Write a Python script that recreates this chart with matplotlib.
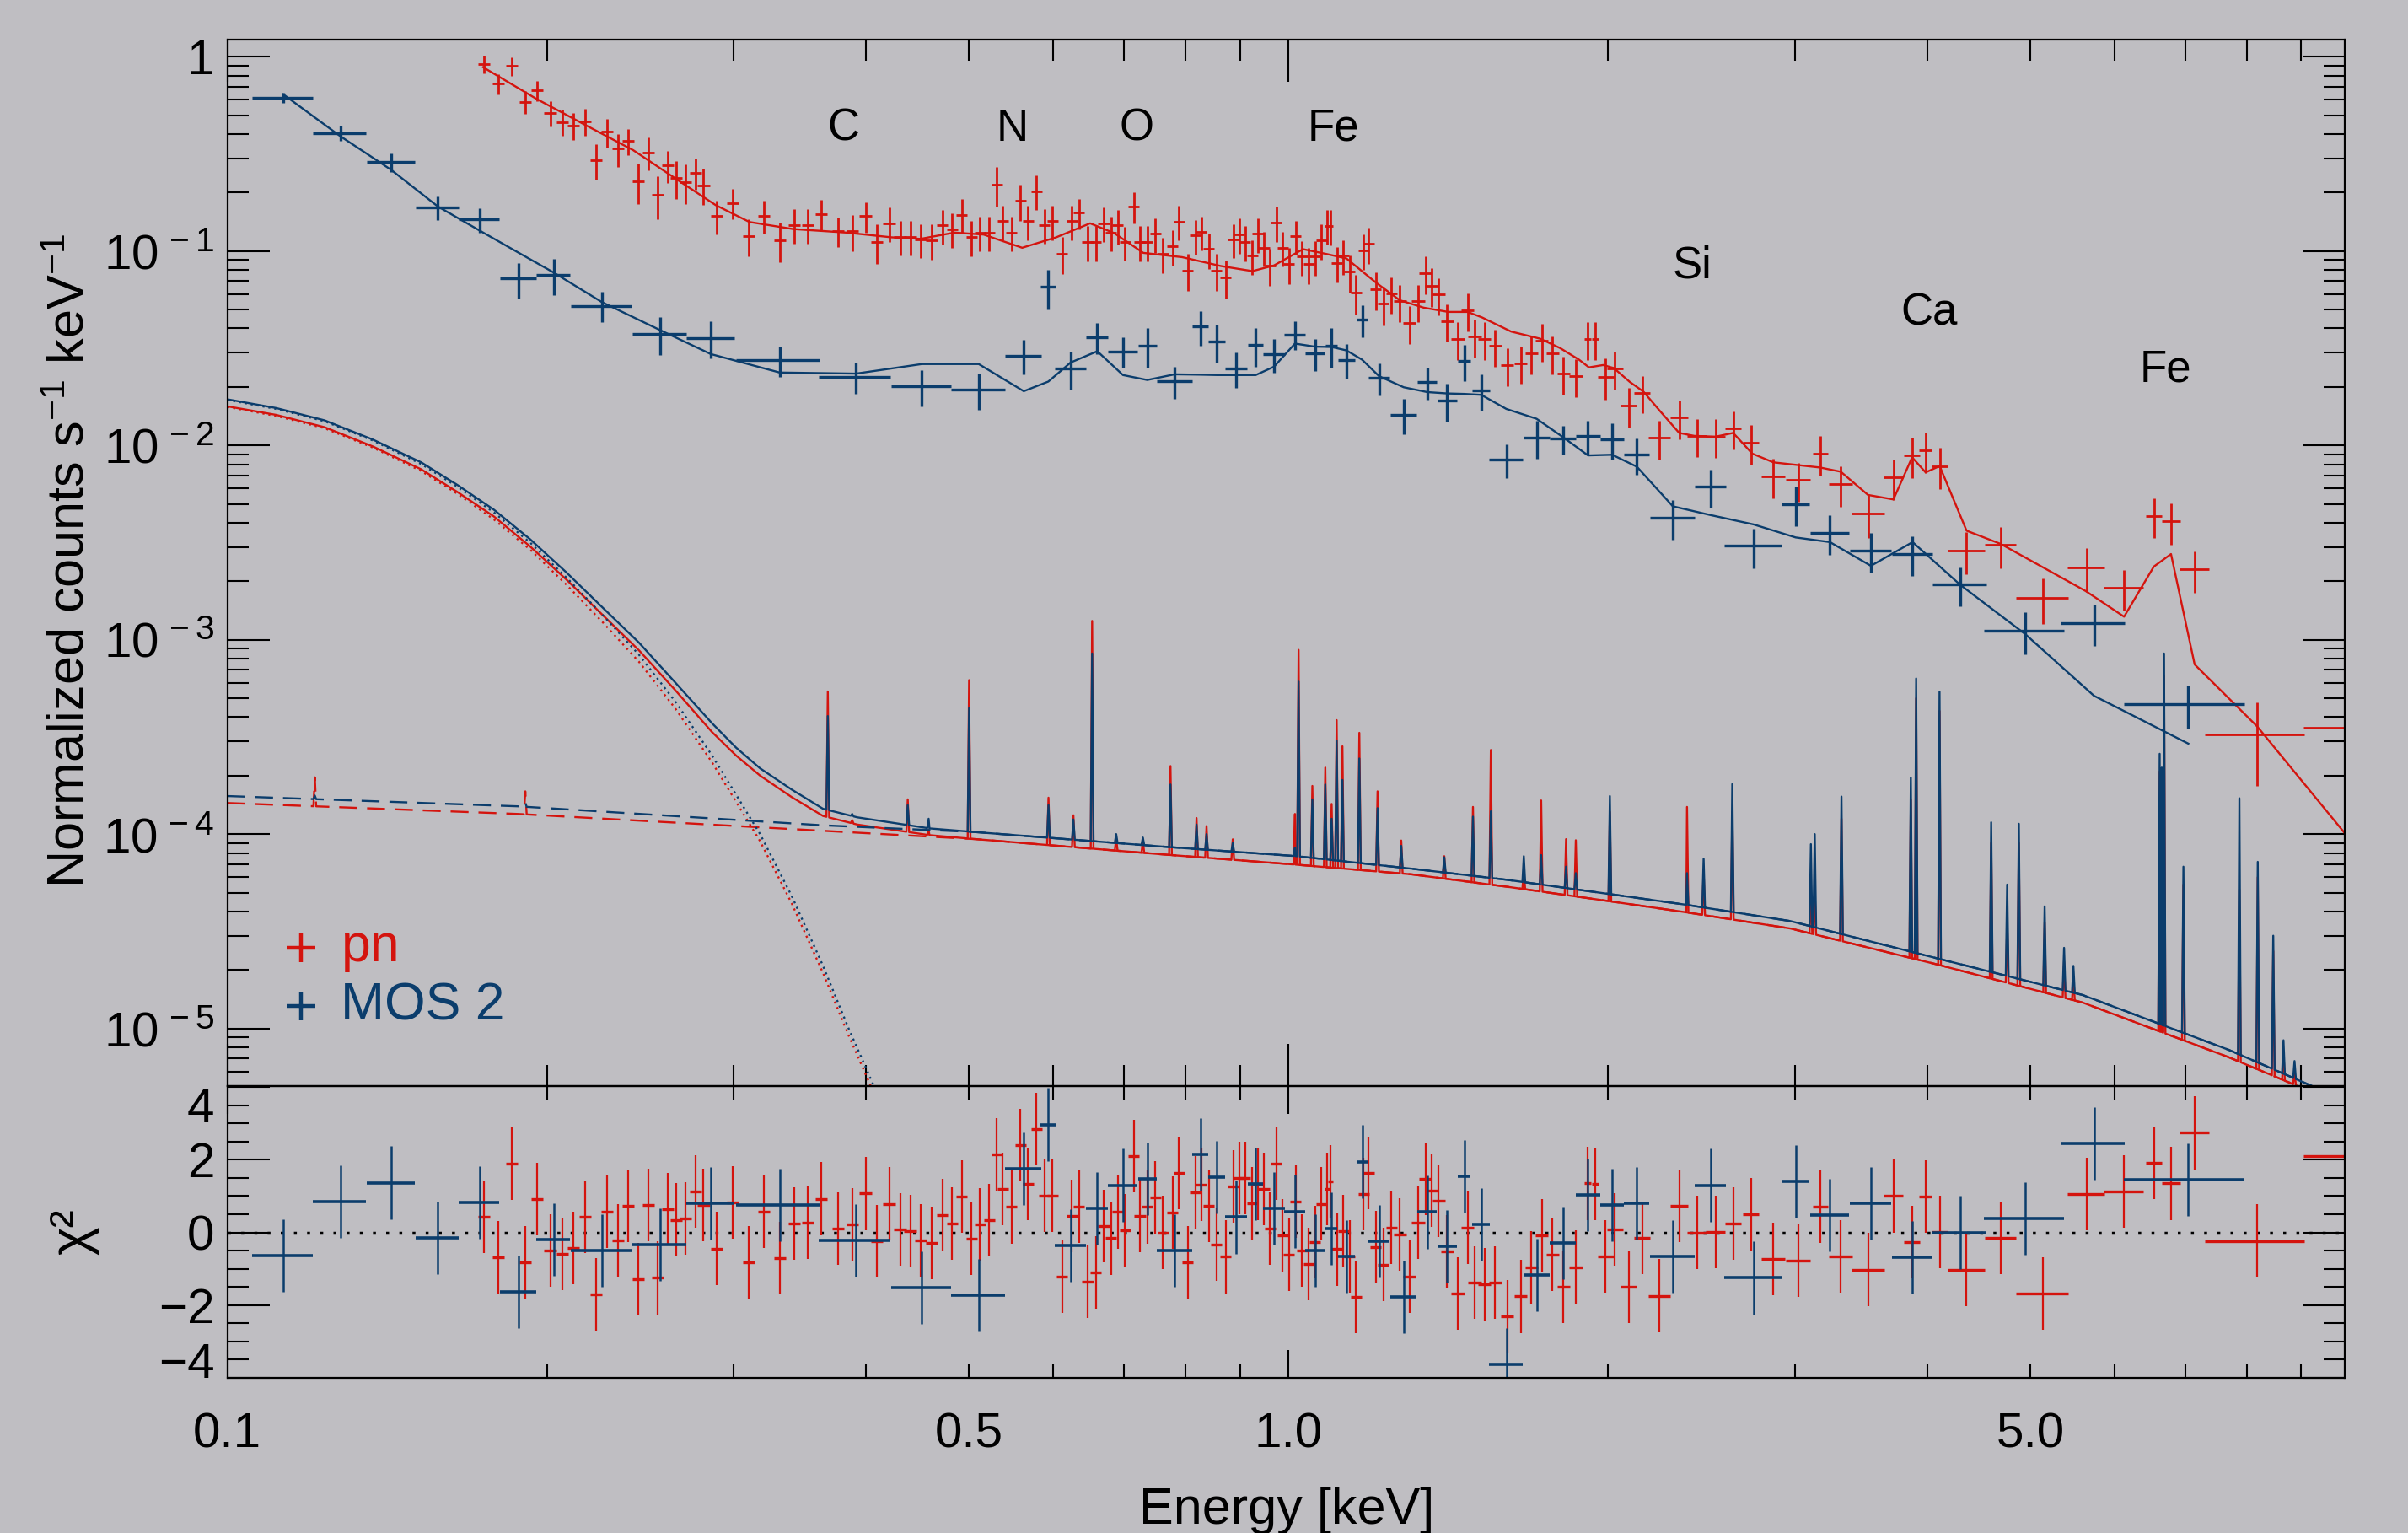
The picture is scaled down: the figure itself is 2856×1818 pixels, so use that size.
import numpy as np
import matplotlib
matplotlib.use('Agg')
import matplotlib.pyplot as plt
from matplotlib.ticker import FixedLocator, FuncFormatter, MultipleLocator, NullFormatter

plt.rcParams['font.family'] = ['Liberation Sans', 'DejaVu Sans']
plt.rcParams['mathtext.fontset'] = 'custom'
plt.rcParams['mathtext.rm'] = 'Liberation Sans'
plt.rcParams['mathtext.it'] = 'Liberation Sans:italic'
plt.rcParams['mathtext.bf'] = 'Liberation Sans:bold'
plt.rcParams['mathtext.default'] = 'regular'

RED = '#d4140e'
BLUE = '#0b3d6c'
BG = '#bfbec2'

# ---------------- pn data (keV, counts/s/keV) ----------------
pn_E = [0.1746, 0.1800, 0.1854, 0.1909, 0.1960, 0.2015, 0.2068, 0.2118, 0.2173, 0.2227,
        0.2280, 0.2333, 0.2388, 0.2438, 0.2492, 0.2546, 0.2600, 0.2650, 0.2703, 0.2761,
        0.2810, 0.2891, 0.2993, 0.3099, 0.3204, 0.3315, 0.3420, 0.3522, 0.3627, 0.3764,
        0.3880, 0.3994, 0.4095, 0.4204, 0.4305, 0.4400, 0.4504, 0.4611, 0.4718, 0.4820,
        0.4920, 0.5025, 0.5121, 0.5225, 0.5312, 0.5380, 0.5483, 0.5588, 0.5683, 0.5786,
        0.5888, 0.5990, 0.6117, 0.6248, 0.6346, 0.6467, 0.6584, 0.6696, 0.6802, 0.6902,
        0.7014, 0.7145, 0.7244, 0.7358, 0.7491, 0.7617, 0.7773, 0.7885, 0.8037, 0.8173,
        0.8276, 0.8410, 0.8551, 0.8724, 0.8870, 0.8983, 0.9097, 0.9245, 0.9359, 0.9478,
        0.9608, 0.9741, 0.9874, 1.001, 1.016, 1.030, 1.045, 1.059, 1.074, 1.088,
        1.096, 1.111, 1.126, 1.142, 1.158, 1.177, 1.190, 1.208, 1.229, 1.250,
        1.273, 1.300, 1.325, 1.346, 1.363, 1.385, 1.411, 1.444, 1.475, 1.498,
        1.530, 1.566, 1.607, 1.655, 1.694, 1.732, 1.773, 1.816, 1.865, 1.914,
        1.945, 1.990, 2.030, 2.092, 2.154, 2.236, 2.334, 2.426, 2.527, 2.624,
        2.727, 2.863, 3.021, 3.170, 3.314, 3.516, 3.715, 3.869, 3.984, 4.107,
        4.354, 4.690, 5.137, 5.647, 6.128, 6.537, 6.785, 7.142, 8.18, 10.5]
pn_v = [0.918, 0.729, 0.897, 0.586, 0.671, 0.513, 0.461, 0.442, 0.464, 0.294,
        0.410, 0.336, 0.368, 0.228, 0.322, 0.194, 0.275, 0.237, 0.226, 0.253,
        0.218, 0.152, 0.177, 0.1195, 0.152, 0.1136, 0.1365, 0.1365, 0.1548, 0.1265,
        0.1265, 0.151, 0.1117, 0.1388, 0.1185, 0.1185, 0.1147, 0.1136, 0.1355, 0.1297,
        0.1534, 0.1183, 0.1247, 0.1247, 0.220, 0.1426, 0.1247, 0.181, 0.1426, 0.203,
        0.1365, 0.1426, 0.0971, 0.1426, 0.1576, 0.1117, 0.1117, 0.1388, 0.1245, 0.1355,
        0.1117, 0.1695, 0.1117, 0.1117, 0.1226, 0.0971, 0.1062, 0.1421, 0.0795, 0.1202,
        0.1256, 0.1022, 0.0795, 0.0732, 0.1148, 0.1215, 0.1117, 0.0947, 0.1226, 0.1039,
        0.0843, 0.1403, 0.1039, 0.0857, 0.1195, 0.0937, 0.0857, 0.0937, 0.1136, 0.1350,
        0.1350, 0.0871, 0.0947, 0.0782, 0.0610, 0.1011, 0.1089, 0.0634, 0.0534, 0.0604,
        0.0551, 0.0425, 0.0551, 0.0769, 0.0663, 0.0597, 0.0437, 0.0352, 0.0494, 0.0363,
        0.0352, 0.0324, 0.0258, 0.0265, 0.0298, 0.0346, 0.0298, 0.0234, 0.0227, 0.0354,
        0.0354, 0.0226, 0.0248, 0.0160, 0.0187, 0.01095, 0.01388, 0.01119, 0.01109, 0.01224,
        0.01037, 0.00695, 0.00664, 0.00907, 0.00634, 0.00444, 0.00685, 0.00887, 0.00940, 0.00783,
        0.00287, 0.00307, 0.00164, 0.00236, 0.00185, 0.00435, 0.00406, 0.00230, 0.000327, 0.000354]
pn_xerr = [0.0023, 0.0023, 0.0024, 0.0025, 0.0025, 0.0026, 0.0027, 0.0028, 0.0028, 0.0029,
           0.0030, 0.0030, 0.0031, 0.0032, 0.0032, 0.0033, 0.0034, 0.0034, 0.0035, 0.0036,
           0.0037, 0.0038, 0.0039, 0.0040, 0.0042, 0.0043, 0.0044, 0.0046, 0.0047, 0.0049,
           0.0050, 0.0052, 0.0053, 0.0055, 0.0056, 0.0057, 0.0059, 0.0060, 0.0057, 0.0058,
           0.0059, 0.0060, 0.0061, 0.0063, 0.0064, 0.0065, 0.0066, 0.0067, 0.0068, 0.0069,
           0.0071, 0.0072, 0.0073, 0.0075, 0.0076, 0.0078, 0.0079, 0.0080, 0.0082, 0.0083,
           0.0084, 0.0086, 0.0087, 0.0088, 0.0090, 0.0091, 0.0093, 0.0095, 0.0096, 0.0098,
           0.0099, 0.0101, 0.0103, 0.0105, 0.0106, 0.0108, 0.0109, 0.0111, 0.0112, 0.0114,
           0.0115, 0.0117, 0.0118, 0.0120, 0.0122, 0.0124, 0.0125, 0.0127, 0.0129, 0.0060,
           0.0060, 0.0133, 0.0135, 0.0137, 0.0139, 0.0141, 0.0143, 0.0145, 0.0147, 0.0150,
           0.0178, 0.0182, 0.0186, 0.0188, 0.0191, 0.0194, 0.0198, 0.0202, 0.0207, 0.0210,
           0.0214, 0.0219, 0.0225, 0.0232, 0.0237, 0.0242, 0.0248, 0.0254, 0.0261, 0.0150,
           0.0150, 0.0338, 0.0345, 0.0356, 0.0366, 0.0514, 0.0443, 0.0510, 0.0531, 0.0446,
           0.0491, 0.0716, 0.0816, 0.0539, 0.0829, 0.1266, 0.0780, 0.0658, 0.0558, 0.0739,
           0.1785, 0.1595, 0.2928, 0.2259, 0.2635, 0.1177, 0.1357, 0.2285, 0.883, 1.45]
pn_yerr = [0.094, 0.087, 0.099, 0.076, 0.081, 0.077, 0.071, 0.071, 0.074, 0.062,
           0.070, 0.064, 0.057, 0.054, 0.061, 0.049, 0.052, 0.052, 0.052, 0.046,
           0.046, 0.030, 0.031, 0.026, 0.029, 0.026, 0.027, 0.027, 0.028, 0.022,
           0.027, 0.027, 0.026, 0.028, 0.024, 0.024, 0.023, 0.023, 0.027, 0.026,
           0.031, 0.024, 0.025, 0.025, 0.051, 0.029, 0.025, 0.038, 0.029, 0.041,
           0.027, 0.029, 0.021, 0.029, 0.028, 0.023, 0.023, 0.028, 0.025, 0.027,
           0.022, 0.031, 0.023, 0.023, 0.025, 0.020, 0.022, 0.029, 0.017, 0.024,
           0.025, 0.021, 0.017, 0.016, 0.023, 0.025, 0.023, 0.019, 0.025, 0.021,
           0.018, 0.029, 0.021, 0.018, 0.024, 0.019, 0.018, 0.019, 0.023, 0.027,
           0.028, 0.018, 0.019, 0.017, 0.014, 0.021, 0.023, 0.014, 0.012, 0.013,
           0.012, 0.0094, 0.012, 0.017, 0.015, 0.013, 0.0096, 0.0077, 0.011, 0.0080,
           0.0077, 0.0071, 0.0057, 0.0058, 0.0066, 0.0076, 0.0066, 0.0051, 0.0050, 0.0078,
           0.0078, 0.0054, 0.0055, 0.0037, 0.0041, 0.0025, 0.0031, 0.0025, 0.0025, 0.0027,
           0.0024, 0.0016, 0.0015, 0.0021, 0.0015, 0.0011, 0.0016, 0.0021, 0.0022, 0.0019,
           0.0007, 0.00075, 0.00043, 0.00059, 0.00044, 0.0010, 0.00097, 0.00055, 0.00015, 0.00021]
pn_res = [0.44, -0.68, 1.89, -0.83, 0.91, -0.49, -0.59, -0.42, 0.44, -1.70,
          0.58, -0.22, 0.73, -1.29, 0.76, -1.25, 0.64, 0.35, 0.39, 1.13,
          0.76, -0.44, 0.83, -0.83, 0.58, -0.70, 0.25, 0.27, 0.93, 0.10,
          0.23, 1.07, -0.25, 0.79, 0.08, 0.04, -0.21, -0.29, 0.48, 0.25,
          0.99, -0.17, 0.22, 0.33, 2.15, 1.19, 0.70, 2.40, 1.33, 2.85,
          1.01, 1.01, -1.21, 0.46, 0.72, -1.36, -1.10, 0.17, -0.16, 0.56,
          0.05, 2.11, 0.46, 0.70, 0.97, 0.00, 0.55, 1.64, -0.83, 1.10,
          1.32, 0.73, -0.33, -0.67, 1.27, 1.49, 1.49, 0.81, 1.33, 1.19,
          0.10, 1.89, -0.09, -0.62, 0.86, -0.49, -0.86, -0.26, 0.79, 1.20,
          1.41, -0.46, 0.04, -0.66, -1.78, 1.06, 1.64, -0.41, -0.88, 0.14,
          -0.06, -1.21, 0.28, 1.48, 1.16, 0.87, -0.52, -1.68, 0.13, -1.38,
          -1.43, -1.37, -2.30, -1.76, -0.97, -0.08, -0.62, -1.50, -0.95, 1.35,
          1.33, -0.66, 0.08, -1.50, -0.15, -1.74, 0.73, 0.00, 0.02, 0.24,
          0.49, -0.72, -0.78, 0.72, -0.66, -1.02, 1.00, -0.26, 0.98, 0.01,
          -1.02, -0.15, -1.68, 1.05, 1.12, 1.91, 1.35, 2.74, -0.23, 2.10]

# pn folded model
pnm_E = [0.1742, 0.1955, 0.2173, 0.2413, 0.2680, 0.2885, 0.3105, 0.3414, 0.3831, 0.4227,
         0.4501, 0.4844, 0.5160, 0.5611, 0.6040, 0.6502, 0.6852, 0.7297, 0.7936, 0.8634,
         0.9245, 0.9690, 1.032, 1.088, 1.134, 1.208, 1.273, 1.341, 1.414, 1.475,
         1.522, 1.621, 1.726, 1.802, 1.878, 1.919, 1.979, 2.025, 2.097, 2.160,
         2.236, 2.334, 2.412, 2.527, 2.624, 2.735, 2.863, 3.170, 3.314, 3.516,
         3.715, 3.869, 3.984, 4.107, 4.354, 4.690, 5.639, 6.128, 6.537, 6.785,
         7.142, 8.18, 10.5]
pnm_v = [0.882, 0.607, 0.446, 0.330, 0.2248, 0.1723, 0.141, 0.1297, 0.1244, 0.1176,
         0.1155, 0.1244, 0.1215, 0.1039, 0.1176, 0.1388, 0.1235, 0.0978, 0.0930, 0.0837,
         0.0788, 0.0843, 0.1022, 0.0963, 0.0915, 0.0690, 0.0558, 0.0511, 0.0486, 0.0486,
         0.0455, 0.0385, 0.0354, 0.0317, 0.0276, 0.0252, 0.0259, 0.0250, 0.0212, 0.0189,
         0.01514, 0.01159, 0.01119, 0.01109, 0.01159, 0.00907, 0.00818, 0.00769, 0.00732, 0.00556,
         0.00527, 0.00868, 0.00726, 0.00783, 0.00364, 0.00311, 0.00178, 0.001314, 0.00238, 0.00276,
         0.000746, 0.000358, 0.000068]

# ---------------- MOS 2 data ----------------
mos_E = [0.1129, 0.1278, 0.1427, 0.1579, 0.1728, 0.1880, 0.2030, 0.2254, 0.2557, 0.2855,
         0.3315, 0.3913, 0.4512, 0.5106, 0.5630, 0.5938, 0.6233, 0.6604, 0.6982, 0.7360,
         0.7812, 0.8258, 0.8563, 0.8927, 0.9312, 0.9690, 1.014, 1.059, 1.097, 1.134,
         1.173, 1.217, 1.284, 1.351, 1.411, 1.464, 1.519, 1.604, 1.713, 1.815,
         1.915, 2.018, 2.129, 2.302, 2.498, 2.743, 3.005, 3.237, 3.538, 3.873,
         4.293, 4.948, 5.740, 7.045]
mos_v = [0.615, 0.4054, 0.287, 0.1677, 0.145, 0.0721, 0.0754, 0.0523, 0.0375, 0.0358,
         0.0274, 0.0226, 0.0201, 0.0193, 0.0290, 0.0652, 0.0249, 0.0360, 0.0305, 0.0326,
         0.0213, 0.0408, 0.0342, 0.0249, 0.0328, 0.0295, 0.0372, 0.0297, 0.0326, 0.0276,
         0.0443, 0.0222, 0.0144, 0.0211, 0.0170, 0.0271, 0.0191, 0.00846, 0.01093, 0.0108,
         0.01115, 0.01075, 0.00895, 0.00425, 0.00613, 0.00304, 0.00497, 0.00356, 0.00288, 0.00276,
         0.00192, 0.00111, 0.00122, 0.000467]
mos_xerr = [0.0074, 0.0074, 0.0074, 0.0073, 0.0077, 0.0073, 0.0075, 0.0148, 0.0150, 0.0150,
            0.0298, 0.0303, 0.0292, 0.0295, 0.0222, 0.0100, 0.0215, 0.0156, 0.0228, 0.0147,
            0.0295, 0.0143, 0.0157, 0.0208, 0.0152, 0.0226, 0.0229, 0.0222, 0.0143, 0.0215,
            0.0141, 0.0287, 0.0368, 0.0290, 0.0296, 0.0208, 0.0294, 0.0590, 0.0477, 0.0515,
            0.0505, 0.0505, 0.0596, 0.113, 0.083, 0.169, 0.093, 0.136, 0.158, 0.172,
            0.25, 0.428, 0.398, 0.915]
mos_yerr = [0.039, 0.036, 0.032, 0.023, 0.021, 0.015, 0.016, 0.0094, 0.0083, 0.0079,
            0.0049, 0.0041, 0.0042, 0.0041, 0.0058, 0.015, 0.0055, 0.0065, 0.0055, 0.0075,
            0.0040, 0.0082, 0.0075, 0.0052, 0.0075, 0.0059, 0.0063, 0.0056, 0.0075, 0.0055,
            0.0084, 0.0042, 0.0030, 0.0040, 0.0037, 0.0057, 0.0040, 0.0017, 0.0024, 0.0018,
            0.0022, 0.0023, 0.0019, 0.00098, 0.00135, 0.0007, 0.00114, 0.00082, 0.00066, 0.00063,
            0.00044, 0.00027, 0.00029, 0.000117]
mos_res = [-0.63, 0.85, 1.37, -0.14, 0.83, -1.64, -0.19, -0.50, -0.33, 0.81,
           0.76, -0.21, -1.51, -1.72, 1.75, 2.97, -0.36, 0.67, 1.30, 1.47,
           -0.50, 2.14, 1.52, 0.42, 1.33, 0.66, 0.58, -0.49, 0.11, -0.66,
           1.95, -0.25, -1.78, 0.56, -0.38, 1.54, 0.22, -3.63, -1.17, -0.29,
           1.03, 0.76, 0.80, -0.66, 1.30, -1.25, 1.41, 0.48, 0.80, -0.68,
           0.00, 0.39, 2.45, 1.46]
mos_model = [0.640, 0.3895, 0.2615, 0.1695, 0.1276, 0.0982, 0.0775, 0.0546, 0.0392, 0.0295,
             0.0237, 0.0234, 0.0262, 0.0262, 0.0190, 0.0213, 0.0267, 0.0305, 0.0230, 0.0217,
             0.0232, 0.0231, 0.0230, 0.0230, 0.0230, 0.0254, 0.0334, 0.0322, 0.0321, 0.0308,
             0.0276, 0.0227, 0.0199, 0.0188, 0.0185, 0.0184, 0.0182, 0.0154, 0.0137, 0.0110,
             0.00888, 0.00895, 0.00777, 0.00486, 0.00438, 0.00392, 0.00336, 0.00318, 0.00240, 0.00318,
             0.00192, 0.001066, 0.000515, 0.000292]

# ---------------- unfolded model components ----------------
# soft (dotted) component
soft_E = [0.1, 0.1112, 0.1235, 0.1371, 0.1523, 0.1648, 0.1783, 0.1929, 0.2087, 0.2258,
          0.2443, 0.2644, 0.2861, 0.3015, 0.3177, 0.3403, 0.3642, 0.3850, 0.4067, 0.42]
soft_mos = [0.01714, 0.0154, 0.01331, 0.0106, 0.00802, 0.00612, 0.00452, 0.00316, 0.00209, 0.00134,
            0.000837, 0.000480, 0.000255, 0.000160, 0.000100, 4.8e-5, 2.1e-5, 1.0e-5, 5.06e-6, 3.2e-6]
soft_pn = [0.01577, 0.01417, 0.01225, 0.00975, 0.00738, 0.00563, 0.00416, 0.00291, 0.00192, 0.00123,
           0.00077, 0.000442, 0.000235, 0.000147, 9.2e-5, 4.4e-5, 1.93e-5, 9.2e-6, 4.65e-6, 2.9e-6]
# line-emitting plasma continuum (dashed)
cont_E = [0.1, 0.1879, 0.3642, 0.5074, 0.7644, 1.015, 1.306, 1.611, 1.988, 2.370,
          2.970, 4.079, 5.600, 7.691, 9.255, 9.9]
cont_mos = [1.57e-4, 1.39e-4, 1.11e-4, 1.024e-4, 8.61e-5, 7.71e-5, 6.64e-5, 5.81e-5, 4.95e-5, 4.33e-5,
            3.57e-5, 2.30e-5, 1.487e-5, 7.76e-6, 5.0e-6, 4.3e-6]
cont_pn = [1.446e-4, 1.27e-4, 1.04e-4, 9.42e-5, 7.85e-5, 6.97e-5, 6.21e-5, 5.35e-5, 4.55e-5, 3.96e-5,
           3.27e-5, 2.14e-5, 1.36e-5, 7.11e-6, 4.66e-6, 4.0e-6]
# total model below 0.46 keV (solid)
tot_E = [0.1, 0.1112, 0.1235, 0.1371, 0.1523, 0.1648, 0.1783, 0.1929, 0.2087, 0.2258,
         0.2443, 0.2644, 0.2861, 0.3015, 0.3177, 0.3403, 0.3642, 0.3923, 0.4588]
tot_mos = [0.01726, 0.01556, 0.01345, 0.01072, 0.00818, 0.00625, 0.00467, 0.00329, 0.00222, 0.001463,
           0.000966, 0.000601, 0.000373, 0.000279, 0.000218, 0.0001695, 0.000135, 0.000122, 0.000107]
tot_pn = [0.01588, 0.01435, 0.0124, 0.00988, 0.00753, 0.00575, 0.00431, 0.00302, 0.00204, 0.00134,
          0.000882, 0.000549, 0.000336, 0.000254, 0.0002, 0.000155, 0.000124, 0.000112, 0.0000988]
# emission lines: energy, peak (pn), peak (MOS 2)
line_E = [0.1209, 0.1909, 0.368, 0.388, 0.4377, 0.458, 0.500, 0.594, 0.627, 0.653,
          0.688, 0.729, 0.774, 0.819, 0.837, 0.886, 1.014, 1.022, 1.053, 1.083,
          1.098, 1.110, 1.124, 1.166, 1.213, 1.277, 1.402, 1.492, 1.551, 1.666,
          1.730, 1.826, 1.865, 2.008, 2.374, 2.461, 2.619, 3.106, 3.132, 3.319,
          3.858, 3.903, 4.106, 4.593, 4.755, 4.877, 5.158, 5.38, 5.49, 6.62,
          6.65, 6.683, 6.97, 7.87, 8.19, 8.47, 8.66, 8.87]
line_pn = [1.96e-4, 1.66e-4, 5.42e-4, 1.18e-4, 1.51e-4, 1.05e-4, 6.2e-4, 1.54e-4, 1.25e-4, 1.25e-3,
           9.5e-5, 9.2e-5, 2.24e-4, 1.21e-4, 1.10e-4, 9.4e-5, 1.27e-4, 8.87e-4, 1.77e-4, 2.20e-4,
           1.43e-4, 3.86e-4, 2.83e-4, 3.32e-4, 1.66e-4, 9.27e-5, 7.7e-5, 1.38e-4, 2.71e-4, 6.5e-5,
           1.49e-4, 9.42e-5, 9.3e-5, 1.3e-4, 1.38e-4, 6.5e-5, 1.3e-4, 5.0e-5, 5.2e-5, 1.2e-4,
           1.5e-4, 5.0e-4, 4.3e-4, 9.0e-5, 3.5e-5, 9.0e-5, 3.5e-5, 2.2e-5, 1.8e-5, 2.1e-4,
           1.8e-4, 6.5e-4, 5.5e-5, 5.2e-5, 6.0e-5, 2.5e-5, 7.5e-6, 6.0e-6]
line_mos = [1.58e-4, 1.45e-4, 4.05e-4, 1.27e-4, 1.41e-4, 1.2e-4, 4.45e-4, 1.41e-4, 1.19e-4, 8.5e-4,
            1.0e-4, 9.6e-5, 1.80e-4, 1.12e-4, 1.0e-4, 9.0e-5, 8.5e-5, 6.09e-4, 1.51e-4, 1.80e-4,
            1.2e-4, 3.03e-4, 1.90e-4, 2.45e-4, 1.36e-4, 8.7e-5, 7.6e-5, 1.23e-4, 1.31e-4, 7.7e-5,
            7.8e-5, 6.8e-5, 6.3e-5, 1.57e-4, 6.3e-5, 7.46e-5, 1.81e-4, 8.88e-5, 1.0e-4, 1.56e-4,
            1.95e-4, 6.32e-4, 5.4e-4, 1.15e-4, 5.5e-5, 1.13e-4, 4.25e-5, 2.6e-5, 2.1e-5, 2.59e-4,
            2.2e-4, 8.5e-4, 6.8e-5, 1.53e-4, 7.2e-5, 3.0e-5, 8.7e-6, 6.8e-6]

elem_names = ['C', 'N', 'O', 'Fe', 'Si', 'Ca', 'Fe']
elem_E = [0.3804, 0.5489, 0.7192, 1.102, 2.402, 4.013, 6.704]
elem_v = [0.425, 0.425, 0.425, 0.425, 0.0841, 0.0478, 0.0244]


def with_spikes(E, v, lE, lpk, w=0.003):
    # put narrow line spikes on top of a curve (foot of each spike sits on the curve)
    E = np.asarray(E, float)
    v = np.asarray(v, float)
    lgE, lgv = np.log10(E), np.log10(v)
    xs, ys = list(E), list(v)
    for e, p in zip(lE, lpk):
        if e <= E[0] or e >= E[-1]:
            continue
        for ee in (e * (1 - w), e * (1 + w)):
            xs.append(ee)
            ys.append(10 ** np.interp(np.log10(ee), lgE, lgv))
        base = 10 ** np.interp(np.log10(e), lgE, lgv)
        xs.append(e)
        ys.append(max(p, base))
    o = np.argsort(xs)
    return np.array(xs)[o], np.array(ys)[o]


line_E_a = np.array(line_E)
low = line_E_a < 0.35
cont_E_a = np.array(cont_E)
hi_cont = cont_E_a > 0.46

fig = plt.figure(figsize=(28.56, 18.18), dpi=100, facecolor=BG)
ax1 = fig.add_axes([0.0944, 0.2916, 0.8795, 0.6824])
ax2 = fig.add_axes([0.0944, 0.1012, 0.8795, 0.1904])
for ax in (ax1, ax2):
    ax.set_facecolor('none')

LW = 1.7
for col, soft, cont, tot, lpk in ((RED, soft_pn, cont_pn, tot_pn, line_pn),
                                  (BLUE, soft_mos, cont_mos, tot_mos, line_mos)):
    lpk = np.array(lpk)
    # dashed plasma component
    dx, dy = with_spikes(cont_E, cont, line_E_a[low], lpk[low])
    ax1.plot(dx, dy, color=col, lw=LW, ls=(0, (9, 5)))
    # dotted soft component
    ax1.plot(soft_E, soft, color=col, lw=LW, ls=(0, (1, 2)))
    # solid total
    sE = list(tot_E) + list(cont_E_a[hi_cont])
    sV = list(tot) + list(np.array(cont)[hi_cont])
    sx, sy = with_spikes(sE, sV, line_E_a[~low], lpk[~low])
    ax1.plot(sx, sy, color=col, lw=LW)

# folded models
ax1.plot(pnm_E, pnm_v, color=RED, lw=LW)
ax1.plot(mos_E, mos_model, color=BLUE, lw=LW)

# data
ax1.errorbar(pn_E, pn_v, xerr=pn_xerr, yerr=pn_yerr, fmt='none', ecolor=RED,
             elinewidth=2.0, capsize=0)
ax1.errorbar(mos_E, mos_v, xerr=mos_xerr, yerr=mos_yerr, fmt='none', ecolor=BLUE,
             elinewidth=2.4, capsize=0)

for name, e, v in zip(elem_names, elem_E, elem_v):
    ax1.text(e, v, name, ha='center', va='center', fontsize=38, color='black')

# legend
ax1.plot([0.0348], [0.1324], marker='+', ms=24, mew=3.2, color=RED, transform=ax1.transAxes)
ax1.text(0.0537, 0.1324, 'pn', color=RED, fontsize=45, va='center', ha='left',
         transform=ax1.transAxes)
ax1.plot([0.0348], [0.0765], marker='+', ms=24, mew=3.2, color=BLUE, transform=ax1.transAxes)
ax1.text(0.0537, 0.0765, 'MOS 2', color=BLUE, fontsize=45, va='center', ha='left',
         transform=ax1.transAxes)

# residuals
ax2.axhline(0, color='black', lw=2.5, ls=(0, (1, 3.5)))
ax2.errorbar(pn_E, pn_res, yerr=1.0, fmt='none', ecolor=RED, elinewidth=1.6, capsize=0)
ax2.errorbar(pn_E, pn_res, xerr=pn_xerr, fmt='none', ecolor=RED, elinewidth=2.4, capsize=0)
ax2.errorbar(mos_E, mos_res, yerr=1.0, fmt='none', ecolor=BLUE, elinewidth=1.8, capsize=0)
ax2.errorbar(mos_E, mos_res, xerr=mos_xerr, fmt='none', ecolor=BLUE, elinewidth=2.6, capsize=0)

# axes / ticks
x_major = [0.1, 1.0, 10.0]
x_minor = [0.2, 0.3, 0.4, 0.5, 0.6, 0.7, 0.8, 0.9, 2, 3, 4, 5, 6, 7, 8, 9]
for ax in (ax1, ax2):
    ax.set_xscale('log')
    ax.set_xlim(0.1, 9.9)
    ax.xaxis.set_major_locator(FixedLocator(x_major))
    ax.xaxis.set_minor_locator(FixedLocator(x_minor))
    for s in ax.spines.values():
        s.set_linewidth(1.6)
    ax.tick_params(which='both', direction='in', top=True, right=True, width=1.5,
                   labelsize=42, colors='black')

ax1.set_yscale('log')
ax1.set_ylim(5.06e-6, 1.22)
ax1.yaxis.set_major_locator(FixedLocator([1e-5, 1e-4, 1e-3, 1e-2, 1e-1, 1]))
ax1.yaxis.set_minor_locator(FixedLocator([m * 10.0 ** k for k in range(-6, 1) for m in range(2, 10)]))
ax1.set_yticklabels([r'$10^{\,-5}$', r'$10^{\,-4}$', r'$10^{\,-3}$', r'$10^{\,-2}$',
                     r'$10^{\,-1}$', '1'])
ax1.xaxis.set_major_formatter(NullFormatter())
ax1.xaxis.set_minor_formatter(NullFormatter())
ax1.tick_params(which='major', length=36)
ax1.tick_params(which='minor', length=18)
ax1.tick_params(axis='y', which='both', pad=11)

ax2.set_ylim(-4.0, 4.03)
ax2.yaxis.set_major_locator(FixedLocator([-4, -2, 0, 2, 4]))
ax2.yaxis.set_minor_locator(MultipleLocator(0.5))
ax2.set_yticklabels(['\u22124', '\u22122', '0', '2', '4'])
ax2.xaxis.set_major_formatter(FuncFormatter(lambda x, p: {0.1: '0.1', 1.0: '1.0'}.get(round(x, 3), '')))
ax2.xaxis.set_minor_formatter(FuncFormatter(lambda x, p: {0.5: '0.5', 5.0: '5.0'}.get(round(x, 3), '')))
ax2.tick_params(axis='x', which='major', length=24, pad=29)
ax2.tick_params(axis='x', which='minor', length=12, pad=29, labelsize=42)
ax2.tick_params(axis='y', which='major', length=36, pad=11)
ax2.tick_params(axis='y', which='minor', length=18)
for lbl in ax2.get_yticklabels():
    if lbl.get_text() == '4':
        lbl.set_verticalalignment('top')
    elif lbl.get_text() == '\u22124':
        lbl.set_verticalalignment('baseline')

fig.text(0.0293, 0.634, r'Normalized counts s$^{-1}$ keV$^{-1}$', rotation=90,
         ha='center', va='center', fontsize=44)
fig.text(0.0306, 0.1964, '\u03c7\u00b2', rotation=90, ha='center', va='center', fontsize=46)
fig.text(0.5345, 0.030, 'Energy [keV]', ha='center', va='top', fontsize=44)

fig.savefig('out.png', dpi=100, facecolor=BG)
